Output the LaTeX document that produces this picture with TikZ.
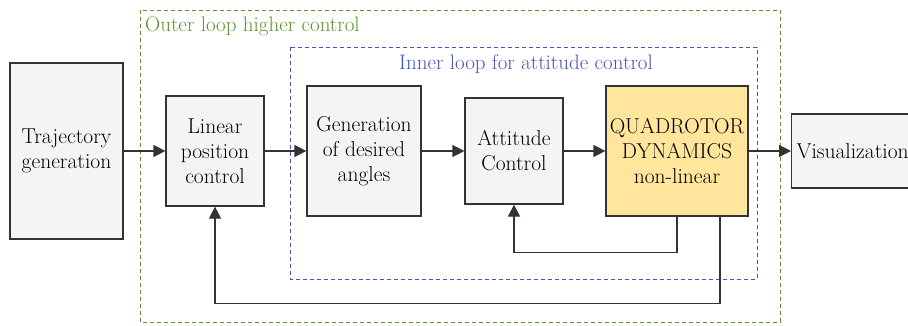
\documentclass[tikz,border=0pt]{standalone}
\usetikzlibrary{arrows.meta,calc}
\definecolor{boxfill}{HTML}{F4F4F4}
\definecolor{boxline}{HTML}{333333}
\definecolor{plantfill}{HTML}{FFE69C}
\definecolor{outergreen}{HTML}{5E9430}
\definecolor{innerblue}{HTML}{4655B0}
\tikzset{
  block/.style={draw=boxline, line width=1.2pt, fill=boxfill, align=center,
    inner sep=2pt, font=\fontsize{21.5}{25}\selectfont},
  plant/.style={block, fill=plantfill},
  flow/.style={draw=boxline, line width=1.2pt, -{Triangle[length=12pt,width=12pt]}},
  fb/.style={draw=black!85, line width=1.2pt},
  loopbox/.style={dashed, dash pattern=on 4pt off 3pt, line width=1pt},
  looplabel/.style={font=\fontsize{21}{24}\selectfont, inner sep=0pt}
}
\begin{document}
\begin{tikzpicture}[x=1pt,y=-1pt]
  \useasboundingbox (0,0) rectangle (908,325);
  \clip (0,0) rectangle (908,325);

  % nested control loops
  \draw[loopbox, draw=outergreen] (140,10) rectangle (780,322);
  \node[looplabel, text=outergreen, anchor=west] (outerlbl) at (145,26) {Outer loop higher control};
  \draw[loopbox, draw=innerblue] (290,47) rectangle (757,279);
  \node[looplabel, text=innerblue] (innerlbl) at (526,64) {Inner loop for attitude control};

  % blocks
  \node[block, minimum width=113pt, minimum height=176pt] (traj) at (66.5,151) {Trajectory\\generation};
  \node[block, minimum width=98pt, minimum height=110pt] (lin) at (215,151) {Linear\\position\\control};
  \node[block, minimum width=114pt, minimum height=130pt] (gen) at (364,151) {Generation\\of desired\\angles};
  \node[block, minimum width=98pt, minimum height=106pt] (att) at (514,151) {Attitude\\Control};
  \node[plant, minimum width=142pt, minimum height=130pt] (quad) at (677,151) {QUADROTOR\\DYNAMICS\\non-linear};
  \node[block, anchor=west, minimum width=140pt, minimum height=74pt, text width=130pt, align=left, inner sep=5pt] (vis) at (791,151) {Visualization};

  % forward path
  \draw[flow] (traj) -- (lin);
  \draw[flow] (lin) -- (gen);
  \draw[flow] (gen) -- (att);
  \draw[flow] (att) -- (quad);
  \draw[flow] (quad.east) -- (vis.west);

  % feedback paths
  \coordinate (innertap) at (quad.south);
  \coordinate (outertap) at ($(quad.south)+(43,0)$);
  \draw[fb, flow] (innertap) -- ++(0,36) -| (att.south);
  \draw[fb, flow] (outertap) -- ++(0,87) -| (lin.south);
\end{tikzpicture}
\end{document}
